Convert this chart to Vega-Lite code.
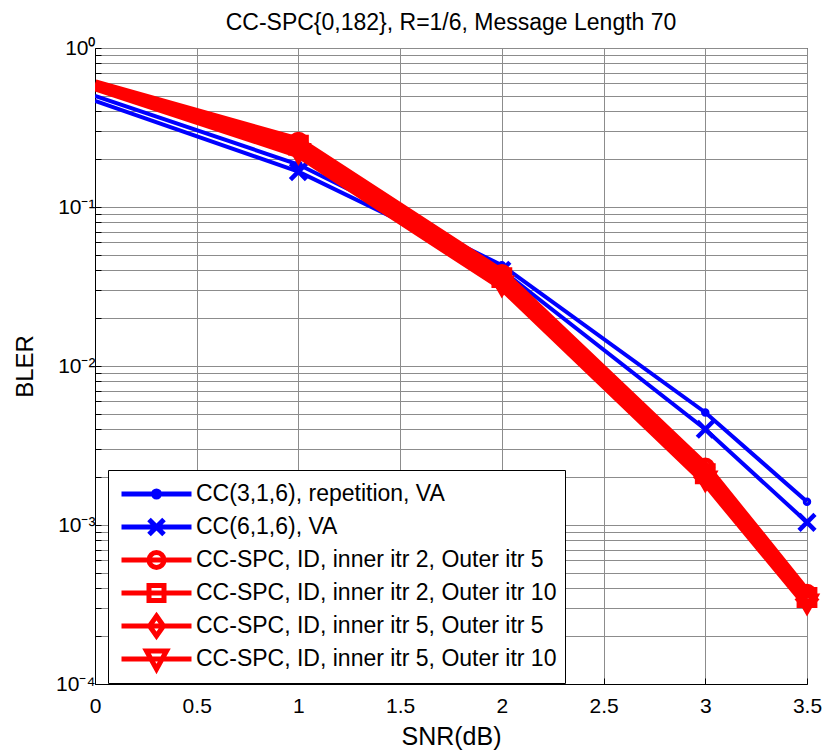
{
  "$schema": "https://vega.github.io/schema/vega-lite/v6.json",
  "autosize": "none",
  "padding": {"left": 95, "top": 48, "right": 18, "bottom": 71},
  "width": 712,
  "height": 636,
  "background": "white",
  "config": {
    "font": "Liberation Sans",
    "view": {"stroke": "black", "strokeWidth": 1},
    "axis": {
      "labelFont": "Liberation Sans",
      "titleFont": "Liberation Sans",
      "labelColor": "black",
      "titleColor": "black",
      "titleFontWeight": "normal",
      "domainColor": "black",
      "tickColor": "black",
      "gridColor": "#8c8c8c",
      "gridOpacity": 1,
      "gridWidth": 1
    },
    "legend": {
      "labelFont": "Liberation Sans",
      "labelFontSize": 23,
      "labelColor": "black",
      "labelLimit": 600
    }
  },
  "title": {
    "text": "CC-SPC{0,182}, R=1/6, Message Length 70",
    "font": "Liberation Sans",
    "fontSize": 23,
    "fontWeight": "normal",
    "color": "black",
    "frame": "group",
    "offset": 2
  },
  "data": {
    "values": [
      {"snr": 0, "bler": 0.50, "series": "CC(3,1,6), repetition, VA"},
      {"snr": 1, "bler": 0.185, "series": "CC(3,1,6), repetition, VA"},
      {"snr": 2, "bler": 0.043, "series": "CC(3,1,6), repetition, VA"},
      {"snr": 3, "bler": 0.0051, "series": "CC(3,1,6), repetition, VA"},
      {"snr": 3.5, "bler": 0.0014, "series": "CC(3,1,6), repetition, VA"},
      {"snr": 0, "bler": 0.465, "series": "CC(6,1,6), VA"},
      {"snr": 1, "bler": 0.167, "series": "CC(6,1,6), VA"},
      {"snr": 2, "bler": 0.040, "series": "CC(6,1,6), VA"},
      {"snr": 3, "bler": 0.0040, "series": "CC(6,1,6), VA"},
      {"snr": 3.5, "bler": 0.00104, "series": "CC(6,1,6), VA"},
      {"snr": 0, "bler": 0.59, "series": "CC-SPC, ID, inner itr 2, Outer itr 5"},
      {"snr": 1, "bler": 0.258, "series": "CC-SPC, ID, inner itr 2, Outer itr 5"},
      {"snr": 2, "bler": 0.038, "series": "CC-SPC, ID, inner itr 2, Outer itr 5"},
      {"snr": 3, "bler": 0.0023, "series": "CC-SPC, ID, inner itr 2, Outer itr 5"},
      {"snr": 3.5, "bler": 0.00037, "series": "CC-SPC, ID, inner itr 2, Outer itr 5"},
      {"snr": 0, "bler": 0.585, "series": "CC-SPC, ID, inner itr 2, Outer itr 10"},
      {"snr": 1, "bler": 0.245, "series": "CC-SPC, ID, inner itr 2, Outer itr 10"},
      {"snr": 2, "bler": 0.036, "series": "CC-SPC, ID, inner itr 2, Outer itr 10"},
      {"snr": 3, "bler": 0.0021, "series": "CC-SPC, ID, inner itr 2, Outer itr 10"},
      {"snr": 3.5, "bler": 0.00035, "series": "CC-SPC, ID, inner itr 2, Outer itr 10"},
      {"snr": 0, "bler": 0.58, "series": "CC-SPC, ID, inner itr 5, Outer itr 5"},
      {"snr": 1, "bler": 0.23, "series": "CC-SPC, ID, inner itr 5, Outer itr 5"},
      {"snr": 2, "bler": 0.034, "series": "CC-SPC, ID, inner itr 5, Outer itr 5"},
      {"snr": 3, "bler": 0.0020, "series": "CC-SPC, ID, inner itr 5, Outer itr 5"},
      {"snr": 3.5, "bler": 0.00034, "series": "CC-SPC, ID, inner itr 5, Outer itr 5"},
      {"snr": 0, "bler": 0.575, "series": "CC-SPC, ID, inner itr 5, Outer itr 10"},
      {"snr": 1, "bler": 0.218, "series": "CC-SPC, ID, inner itr 5, Outer itr 10"},
      {"snr": 2, "bler": 0.032, "series": "CC-SPC, ID, inner itr 5, Outer itr 10"},
      {"snr": 3, "bler": 0.0019, "series": "CC-SPC, ID, inner itr 5, Outer itr 10"},
      {"snr": 3.5, "bler": 0.00032, "series": "CC-SPC, ID, inner itr 5, Outer itr 10"}
    ]
  },
  "encoding": {
    "x": {
      "field": "snr",
      "type": "quantitative",
      "scale": {"domain": [0, 3.5], "nice": false, "zero": false},
      "axis": {
        "title": "SNR(dB)",
        "titleFontSize": 25,
        "titlePadding": 8,
        "labelFontSize": 21,
        "labelPadding": 17,
        "values": [0, 0.5, 1, 1.5, 2, 2.5, 3, 3.5],
        "format": "~g",
        "tickSize": -6,
        "grid": true,
        "labelFlush": false
      }
    },
    "y": {
      "field": "bler",
      "type": "quantitative",
      "scale": {"type": "log", "domain": [0.0001, 1], "nice": false},
      "axis": {
        "title": "BLER",
        "titleFontSize": 24,
        "titlePadding": 18,
        "labelFontSize": 21,
        "labelPadding": 6,
        "tickSize": -6,
        "grid": true,
        "values": [0.0001, 0.0002, 0.0003, 0.0004, 0.0005, 0.0006, 0.0007, 0.0008, 0.0009,
                   0.001, 0.002, 0.003, 0.004, 0.005, 0.006, 0.007, 0.008, 0.009,
                   0.01, 0.02, 0.03, 0.04, 0.05, 0.06, 0.07, 0.08, 0.09,
                   0.1, 0.2, 0.3, 0.4, 0.5, 0.6, 0.7, 0.8, 0.9, 1],
        "labelExpr": "datum.value == 1 ? '10⁰' : datum.value == 0.1 ? '10⁻¹' : datum.value == 0.01 ? '10⁻²' : datum.value == 0.001 ? '10⁻³' : datum.value == 0.0001 ? '10⁻⁴' : ''",
        "labelFlush": false
      }
    },
    "color": {
      "field": "series",
      "type": "nominal",
      "scale": {
        "domain": ["CC(3,1,6), repetition, VA", "CC(6,1,6), VA", "CC-SPC, ID, inner itr 2, Outer itr 5", "CC-SPC, ID, inner itr 2, Outer itr 10", "CC-SPC, ID, inner itr 5, Outer itr 5", "CC-SPC, ID, inner itr 5, Outer itr 10"],
        "range": ["#0000ff", "#0000ff", "#ff0000", "#ff0000", "#ff0000", "#ff0000"]
      },
      "legend": {
        "title": null,
        "orient": "none",
        "legendX": 13,
        "legendY": 422,
        "direction": "vertical",
        "fillColor": "white",
        "strokeColor": "black",
        "padding": 8,
        "labelOffset": 27,
        "symbolOffset": 28,
        "rowPadding": 1,
        "clipHeight": 32,
        "symbolSize": 400,
        "symbolStrokeWidth": 5,
        "symbolFillColor": "transparent",
        "symbolOpacity": 1
      }
    }
  },
  "layer": [
    {
      "transform": [{"filter": "indexof(datum.series, 'CC-SPC') < 0"}],
      "mark": {"type": "line", "strokeWidth": 4, "clip": true},
      "encoding": {}
    },
    {
      "transform": [{"filter": "datum.series == 'CC(3,1,6), repetition, VA' && datum.snr > 0"}],
      "mark": {"type": "point", "shape": "circle", "filled": false, "size": 12, "strokeWidth": 5, "opacity": 1},
      "encoding": {}
    },
    {
      "transform": [{"filter": "datum.series == 'CC(6,1,6), VA' && datum.snr > 0"}],
      "mark": {"type": "point", "shape": "M-1,-1L1,1M-1,1L1,-1", "filled": false, "size": 256, "strokeWidth": 4.5, "opacity": 1},
      "encoding": {}
    },
    {
      "transform": [{"filter": "indexof(datum.series, 'CC-SPC') >= 0"}],
      "mark": {"type": "line", "strokeWidth": 10, "clip": true},
      "encoding": {}
    },
    {
      "transform": [{"filter": "datum.series == 'CC-SPC, ID, inner itr 2, Outer itr 5' && datum.snr > 0"}],
      "mark": {"type": "point", "shape": "circle", "filled": false, "size": 220, "strokeWidth": 5, "opacity": 1},
      "encoding": {}
    },
    {
      "transform": [{"filter": "datum.series == 'CC-SPC, ID, inner itr 2, Outer itr 10' && datum.snr > 0"}],
      "mark": {"type": "point", "shape": "square", "filled": false, "size": 250, "strokeWidth": 5, "opacity": 1},
      "encoding": {}
    },
    {
      "transform": [{"filter": "datum.series == 'CC-SPC, ID, inner itr 5, Outer itr 5' && datum.snr > 0"}],
      "mark": {"type": "point", "shape": "diamond", "filled": false, "size": 320, "strokeWidth": 5, "opacity": 1},
      "encoding": {}
    },
    {
      "transform": [{"filter": "datum.series == 'CC-SPC, ID, inner itr 5, Outer itr 10' && datum.snr > 0"}],
      "mark": {"type": "point", "shape": "triangle-down", "filled": false, "size": 320, "strokeWidth": 5, "opacity": 1},
      "encoding": {}
    },
    {
      "transform": [{"filter": "false"}],
      "mark": {"type": "point", "filled": false, "strokeWidth": 5, "opacity": 1},
      "encoding": {
        "shape": {
          "field": "series",
          "type": "nominal",
          "scale": {
            "domain": ["CC(3,1,6), repetition, VA", "CC(6,1,6), VA", "CC-SPC, ID, inner itr 2, Outer itr 5", "CC-SPC, ID, inner itr 2, Outer itr 10", "CC-SPC, ID, inner itr 5, Outer itr 5", "CC-SPC, ID, inner itr 5, Outer itr 10"],
            "range": [
              "M-3.5,0H3.5M0.3,0A0.3,0.3 0 1 1 -0.3,0A0.3,0.3 0 1 1 0.3,0",
              "M-3.5,0H3.5M-0.75,-0.75L0.75,0.75M-0.75,0.75L0.75,-0.75",
              "M-3.5,0H3.5M0.75,0A0.75,0.75 0 1 1 -0.75,0A0.75,0.75 0 1 1 0.75,0",
              "M-3.5,0H3.5M-0.75,-0.75H0.75V0.75H-0.75Z",
              "M-3.5,0H3.5M0,-1L0.7,0L0,1L-0.7,0Z",
              "M-3.5,0H3.5M-1,-0.8H1L0,1Z"
            ]
          },
          "legend": {
            "title": null,
            "orient": "none",
            "legendX": 13,
            "legendY": 422,
            "direction": "vertical",
            "fillColor": "white",
            "strokeColor": "black",
            "padding": 8,
            "labelOffset": 27,
            "symbolOffset": 28,
            "rowPadding": 1,
            "clipHeight": 32,
            "symbolSize": 400,
            "symbolStrokeWidth": 5,
            "symbolFillColor": "transparent",
            "symbolOpacity": 1
          }
        }
      }
    }
  ]
}
